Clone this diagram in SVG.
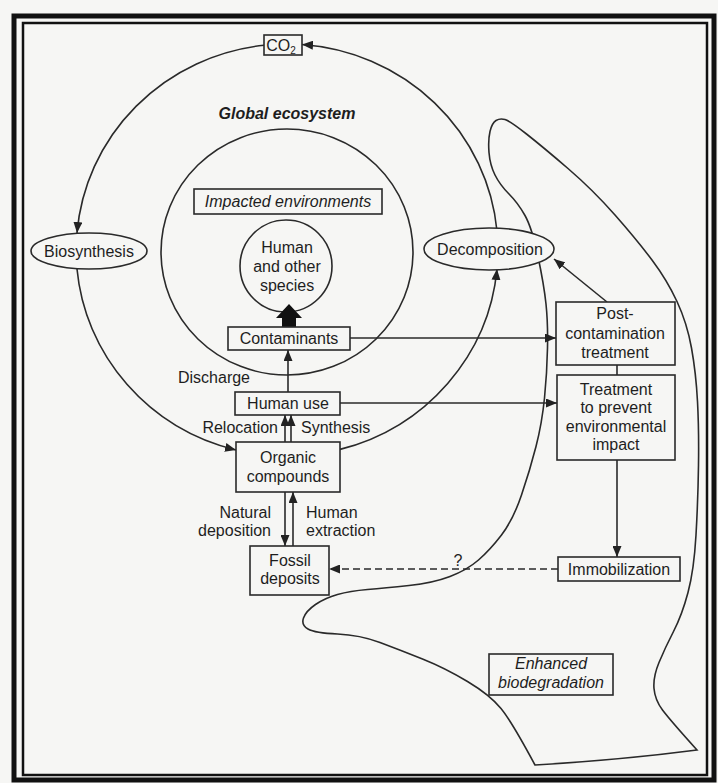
<svg xmlns="http://www.w3.org/2000/svg" width="718" height="783" viewBox="0 0 718 783">
<defs>
<marker id="ah" markerUnits="userSpaceOnUse" markerWidth="12" markerHeight="9" refX="11" refY="4.5" orient="auto">
<path d="M0,0 L11,4.5 L0,9 z" fill="#222"/>
</marker>
<style>
.t{font-family:"Liberation Sans",Arial,sans-serif;font-size:16px;fill:#1e1e1e}
.i{font-style:italic}
.m{text-anchor:middle}
.e{text-anchor:end}
.box{fill:#f6f6f4;stroke:#2a2a2a;stroke-width:1.6}
.ln{fill:none;stroke:#2a2a2a;stroke-width:1.6}
.arr{fill:none;stroke:#2a2a2a;stroke-width:1.6;marker-end:url(#ah)}
</style>
</defs>
<rect x="0" y="0" width="718" height="783" fill="#f6f6f4"/>
<rect x="14" y="16" width="700" height="764" fill="none" stroke="#111" stroke-width="5"/>
<rect x="23" y="23" width="684" height="752" fill="none" stroke="#111" stroke-width="2.5"/>

<g id="region-biodegradation">
<path class="ln" d="M535,765 Q512,722 501,708.5 Q490,695 467.5,681.5 Q445,668 422.5,659 Q400,650 380,642.5 Q360,635 337.5,634 Q315,633 308,629 Q301,625 303.5,618 Q306,611 315.5,604.5 Q325,598 337.5,594.5 Q350,591 367.5,589.5 Q385,588 409,585.5 Q433,583 450,576.5 Q467,570 478.5,560 Q490,550 501.5,535 Q513,520 521.5,495 Q530,470 536,446.5 Q542,423 544.5,398 Q547,373 547.5,348 Q548,323 546,304 Q544,285 538,256.5 Q532,228 525,215.5 Q518,203 509,194 Q500,185 495,175 Q490,165 489,152.5 Q488,140 490,131.5 Q492,123 496,120.5 Q500,118 505,119.5 Q510,121 526.5,134 Q543,147 568,168.5 Q593,190 615,215 Q637,240 652,260 Q667,280 677,301.5 Q687,323 691.5,348 Q696,373 697.5,401.5 Q699,430 698.5,465 Q698,500 696,535 Q694,570 688,592.5 Q682,615 673.5,631.5 Q665,648 659,662.5 Q653,677 654,688.5 Q655,700 662.5,710 Q670,720 697,750 Q620,760 535,765 Z"/>
<rect class="box" x="489" y="654" width="124" height="41"/>
<text class="t i m" x="551" y="669">Enhanced</text>
<text class="t i m" x="551" y="688">biodegradation</text>
</g>

<g id="global-ecosystem">
<text class="t i m" x="287" y="119" font-weight="bold">Global ecosystem</text>
</g>

<g id="impacted-environments">
<ellipse class="ln" cx="287" cy="252" rx="126" ry="123"/>
<rect class="box" x="194" y="189" width="188" height="25"/>
<text class="t i m" x="288" y="207">Impacted environments</text>
</g>

<g id="connectors">
<path class="arr" d="M264,45.2 A211,206 0 0,0 77,233"/>
<path class="arr" d="M77,269 A211,206 0 0,0 236,450"/>
<path class="arr" d="M340,449.4 A211,206 0 0,0 497,269"/>
<path class="arr" d="M497,231 A211,206 0 0,0 302,44.5"/>
<line class="arr" x1="288" y1="392" x2="288" y2="350"/>
<line class="arr" x1="350" y1="338" x2="556" y2="338"/>
<line class="arr" x1="340" y1="403" x2="557" y2="403"/>
<line class="arr" x1="607" y1="302" x2="554" y2="259"/>
<line class="ln" x1="617" y1="365" x2="617" y2="375"/>
<line class="arr" x1="617" y1="460" x2="617" y2="557"/>
<line class="arr" x1="285" y1="442" x2="285" y2="415"/>
<line class="arr" x1="291" y1="442" x2="291" y2="415"/>
<line class="arr" x1="285" y1="492" x2="285" y2="546"/>
<line class="arr" x1="293" y1="546" x2="293" y2="492"/>
<line class="arr" x1="558" y1="569" x2="329" y2="569" stroke-dasharray="7,4"/>
</g>

<g id="co2">
<rect class="box" x="264" y="35" width="38" height="20"/>
<text class="t m" x="281" y="51">CO<tspan font-size="10" dy="3">2</tspan></text>
</g>

<g id="biosynthesis">
<ellipse class="box" cx="89" cy="251" rx="58" ry="18"/>
<text class="t m" x="89" y="257">Biosynthesis</text>
</g>

<g id="decomposition">
<ellipse class="box" cx="489" cy="249" rx="65" ry="21"/>
<text class="t m" x="490" y="255">Decomposition</text>
</g>

<g id="human-species">
<ellipse class="box" cx="286" cy="266" rx="46" ry="46"/>
<text class="t m" x="287" y="253">Human</text>
<text class="t m" x="287" y="272">and other</text>
<text class="t m" x="287" y="291">species</text>
</g>

<g id="impact-arrow">
<polygon points="282,328 282,318 276,318 289,304 302,318 296,318 296,328" fill="#111"/>
</g>

<g id="contaminants">
<rect class="box" x="228" y="327" width="122" height="23"/>
<text class="t m" x="289" y="344">Contaminants</text>
</g>

<g id="discharge-label">
<text class="t e" x="250" y="383">Discharge</text>
</g>

<g id="human-use">
<rect class="box" x="235" y="392" width="105" height="23"/>
<text class="t m" x="288" y="409">Human use</text>
</g>

<g id="relocation-synthesis">
<text class="t e" x="278" y="433">Relocation</text>
<text class="t" x="301" y="433">Synthesis</text>
</g>

<g id="organic-compounds">
<rect class="box" x="236" y="442" width="104" height="50"/>
<text class="t m" x="288" y="463">Organic</text>
<text class="t m" x="288" y="482">compounds</text>
</g>

<g id="deposition-extraction">
<text class="t e" x="271" y="518">Natural</text>
<text class="t e" x="271" y="536">deposition</text>
<text class="t" x="306" y="518">Human</text>
<text class="t" x="306" y="536">extraction</text>
</g>

<g id="fossil-deposits">
<rect class="box" x="250" y="546" width="79" height="49"/>
<text class="t m" x="290" y="566">Fossil</text>
<text class="t m" x="290" y="584">deposits</text>
</g>

<g id="question">
<text class="t m" x="458" y="566">?</text>
</g>

<g id="post-contamination">
<rect class="box" x="556" y="302" width="119" height="63"/>
<text class="t m" x="615" y="319">Post-</text>
<text class="t m" x="615" y="339">contamination</text>
<text class="t m" x="615" y="358">treatment</text>
</g>

<g id="treatment-prevent">
<rect class="box" x="557" y="375" width="118" height="85"/>
<text class="t m" x="616" y="395">Treatment</text>
<text class="t m" x="616" y="413">to prevent</text>
<text class="t m" x="616" y="432">environmental</text>
<text class="t m" x="616" y="450">impact</text>
</g>

<g id="immobilization">
<rect class="box" x="558" y="557" width="122" height="24"/>
<text class="t m" x="619" y="575">Immobilization</text>
</g>
</svg>
